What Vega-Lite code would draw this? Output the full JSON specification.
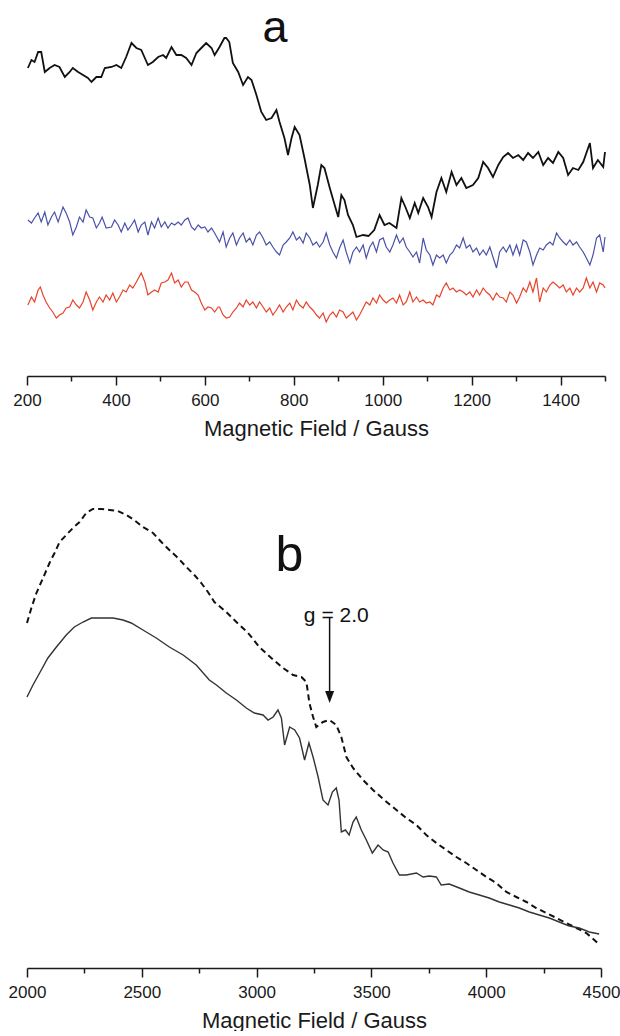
{
"$schema": "https://vega.github.io/schema/vega-lite/v6.json",
"padding": {"left": 8, "top": 0, "right": 0, "bottom": 0},
"bounds": "flush",
"spacing": 102,
"background": "white",
"config": {
  "view": {"stroke": null},
  "axis": {"labelFont": "Liberation Sans", "labelFontSize": 17, "labelColor": "#1a1a1a", "labelFlush": false, "titleFont": "Liberation Sans", "titleFontSize": 22, "titleFontWeight": "normal", "titleColor": "#1a1a1a", "domainColor": "#1a1a1a", "domainWidth": 1.5, "tickColor": "#1a1a1a", "tickWidth": 1.5, "labelPadding": 7, "titlePadding": 10, "grid": false}
},
"datasets": {
"aBlack": [
{"x":202,"y":308},{"x":210,"y":316},{"x":217,"y":314},{"x":225,"y":324},{"x":232,"y":324},{"x":240,"y":304},{"x":251,"y":308},{"x":262,"y":311},{"x":273,"y":309},{"x":285,"y":299},{"x":296,"y":304},{"x":303,"y":308},{"x":315,"y":304},{"x":326,"y":301},{"x":337,"y":298},{"x":345,"y":294},{"x":356,"y":299},{"x":367,"y":299},{"x":375,"y":308},{"x":390,"y":309},{"x":401,"y":311},{"x":412,"y":308},{"x":423,"y":319},{"x":435,"y":333},{"x":446,"y":328},{"x":457,"y":326},{"x":465,"y":318},{"x":472,"y":311},{"x":483,"y":314},{"x":495,"y":319},{"x":506,"y":321},{"x":513,"y":318},{"x":525,"y":329},{"x":536,"y":321},{"x":547,"y":321},{"x":558,"y":318},{"x":570,"y":311},{"x":581,"y":323},{"x":592,"y":328},{"x":603,"y":333},{"x":615,"y":328},{"x":622,"y":321},{"x":633,"y":329},{"x":644,"y":338},{"x":648,"y":338},{"x":655,"y":334},{"x":663,"y":313},{"x":675,"y":304},{"x":686,"y":291},{"x":697,"y":299},{"x":705,"y":296},{"x":716,"y":281},{"x":727,"y":264},{"x":738,"y":256},{"x":750,"y":258},{"x":761,"y":266},{"x":768,"y":254},{"x":779,"y":238},{"x":787,"y":221},{"x":795,"y":238},{"x":802,"y":249},{"x":813,"y":241},{"x":824,"y":218},{"x":836,"y":191},{"x":843,"y":168},{"x":854,"y":191},{"x":862,"y":211},{"x":869,"y":208},{"x":881,"y":188},{"x":892,"y":171},{"x":900,"y":159},{"x":907,"y":181},{"x":914,"y":176},{"x":922,"y":161},{"x":933,"y":151},{"x":941,"y":139},{"x":956,"y":141},{"x":968,"y":140},{"x":981,"y":146},{"x":993,"y":161},{"x":1004,"y":151},{"x":1015,"y":153},{"x":1031,"y":148},{"x":1042,"y":178},{"x":1051,"y":169},{"x":1061,"y":158},{"x":1072,"y":173},{"x":1080,"y":163},{"x":1091,"y":178},{"x":1102,"y":169},{"x":1110,"y":159},{"x":1121,"y":184},{"x":1132,"y":198},{"x":1143,"y":184},{"x":1155,"y":204},{"x":1166,"y":191},{"x":1177,"y":198},{"x":1188,"y":188},{"x":1203,"y":191},{"x":1215,"y":198},{"x":1226,"y":214},{"x":1237,"y":208},{"x":1248,"y":199},{"x":1260,"y":211},{"x":1271,"y":219},{"x":1282,"y":223},{"x":1293,"y":218},{"x":1305,"y":221},{"x":1316,"y":216},{"x":1327,"y":223},{"x":1338,"y":218},{"x":1350,"y":224},{"x":1361,"y":211},{"x":1372,"y":218},{"x":1383,"y":213},{"x":1395,"y":224},{"x":1406,"y":218},{"x":1417,"y":201},{"x":1428,"y":208},{"x":1440,"y":206},{"x":1451,"y":214},{"x":1466,"y":233},{"x":1473,"y":208},{"x":1484,"y":216},{"x":1496,"y":209},{"x":1500,"y":224}
],
"aBlue": [
{"x":202,"y":156},{"x":210,"y":153},{"x":217,"y":158},{"x":225,"y":163},{"x":232,"y":154},{"x":240,"y":164},{"x":247,"y":151},{"x":255,"y":159},{"x":262,"y":164},{"x":270,"y":154},{"x":281,"y":169},{"x":288,"y":163},{"x":296,"y":154},{"x":303,"y":141},{"x":311,"y":149},{"x":318,"y":159},{"x":326,"y":154},{"x":333,"y":166},{"x":341,"y":159},{"x":348,"y":158},{"x":356,"y":148},{"x":363,"y":153},{"x":369,"y":159},{"x":378,"y":148},{"x":390,"y":149},{"x":397,"y":156},{"x":405,"y":151},{"x":412,"y":144},{"x":420,"y":153},{"x":427,"y":146},{"x":435,"y":151},{"x":442,"y":156},{"x":450,"y":144},{"x":457,"y":151},{"x":465,"y":154},{"x":472,"y":141},{"x":480,"y":154},{"x":487,"y":148},{"x":495,"y":158},{"x":502,"y":149},{"x":510,"y":154},{"x":517,"y":148},{"x":525,"y":153},{"x":532,"y":151},{"x":540,"y":154},{"x":547,"y":151},{"x":555,"y":156},{"x":562,"y":158},{"x":570,"y":149},{"x":577,"y":146},{"x":585,"y":151},{"x":592,"y":148},{"x":600,"y":149},{"x":607,"y":144},{"x":615,"y":148},{"x":622,"y":143},
{"x":633,"y":134},{"x":641,"y":144},{"x":648,"y":129},{"x":656,"y":138},{"x":663,"y":143},{"x":671,"y":131},{"x":678,"y":138},{"x":686,"y":143},{"x":693,"y":134},{"x":701,"y":138},{"x":708,"y":131},{"x":716,"y":141},{"x":723,"y":144},{"x":731,"y":138},{"x":738,"y":131},{"x":746,"y":134},{"x":753,"y":129},{"x":761,"y":124},{"x":768,"y":121},{"x":776,"y":131},{"x":783,"y":134},{"x":791,"y":138},{"x":798,"y":144},{"x":806,"y":136},{"x":813,"y":139},{"x":821,"y":133},{"x":828,"y":143},{"x":836,"y":138},{"x":843,"y":131},{"x":851,"y":134},{"x":858,"y":129},{"x":866,"y":134},{"x":873,"y":143},{"x":881,"y":131},{"x":888,"y":124},{"x":896,"y":118},{"x":903,"y":128},{"x":911,"y":136},{"x":918,"y":124},{"x":926,"y":113},{"x":933,"y":124},{"x":941,"y":129},{"x":948,"y":124},{"x":956,"y":131},{"x":963,"y":118},{"x":971,"y":129},{"x":978,"y":134},{"x":986,"y":124},{"x":993,"y":136},{"x":1001,"y":138},{"x":1008,"y":129},{"x":1016,"y":124},{"x":1023,"y":131},{"x":1031,"y":141},{"x":1038,"y":133},{"x":1046,"y":138},{"x":1053,"y":129},{"x":1061,"y":124},{"x":1068,"y":119},{"x":1076,"y":124},
{"x":1083,"y":113},{"x":1091,"y":138},{"x":1098,"y":126},{"x":1106,"y":121},{"x":1113,"y":111},{"x":1121,"y":121},{"x":1128,"y":118},{"x":1136,"y":121},{"x":1143,"y":113},{"x":1151,"y":121},{"x":1158,"y":124},{"x":1166,"y":131},{"x":1173,"y":128},{"x":1181,"y":138},{"x":1188,"y":128},{"x":1196,"y":131},{"x":1203,"y":124},{"x":1211,"y":128},{"x":1218,"y":121},{"x":1226,"y":126},{"x":1233,"y":121},{"x":1241,"y":129},{"x":1248,"y":119},{"x":1256,"y":108},{"x":1263,"y":124},{"x":1271,"y":129},{"x":1278,"y":124},{"x":1286,"y":131},{"x":1293,"y":121},{"x":1301,"y":131},{"x":1308,"y":121},{"x":1316,"y":136},{"x":1323,"y":134},{"x":1331,"y":124},{"x":1338,"y":111},{"x":1346,"y":121},{"x":1353,"y":128},{"x":1361,"y":126},{"x":1368,"y":131},{"x":1376,"y":134},{"x":1383,"y":131},{"x":1391,"y":143},{"x":1398,"y":138},{"x":1406,"y":134},{"x":1413,"y":131},{"x":1421,"y":136},{"x":1428,"y":131},{"x":1436,"y":134},{"x":1443,"y":129},{"x":1451,"y":124},{"x":1458,"y":118},{"x":1466,"y":111},{"x":1473,"y":121},{"x":1481,"y":138},{"x":1488,"y":141},{"x":1496,"y":124},{"x":1500,"y":139}
],
"aRed": [
{"x":202,"y":71},{"x":210,"y":79},{"x":217,"y":74},{"x":225,"y":86},{"x":230,"y":89},{"x":236,"y":81},{"x":243,"y":74},{"x":251,"y":68},{"x":258,"y":64},{"x":266,"y":58},{"x":273,"y":61},{"x":281,"y":63},{"x":288,"y":68},{"x":296,"y":69},{"x":303,"y":76},{"x":311,"y":71},{"x":318,"y":68},{"x":326,"y":74},{"x":333,"y":84},{"x":341,"y":76},{"x":348,"y":66},{"x":356,"y":74},{"x":363,"y":79},{"x":371,"y":74},{"x":378,"y":81},{"x":386,"y":76},{"x":393,"y":83},{"x":401,"y":74},{"x":408,"y":79},{"x":416,"y":86},{"x":423,"y":84},{"x":431,"y":91},{"x":438,"y":88},{"x":446,"y":94},{"x":457,"y":103},{"x":465,"y":94},{"x":472,"y":81},{"x":480,"y":84},{"x":487,"y":86},{"x":495,"y":84},{"x":502,"y":93},{"x":510,"y":94},{"x":517,"y":96},{"x":525,"y":103},{"x":532,"y":93},{"x":540,"y":96},{"x":547,"y":89},{"x":555,"y":94},{"x":562,"y":94},{"x":570,"y":86},{"x":577,"y":84},{"x":585,"y":81},{"x":592,"y":73},{"x":600,"y":66},{"x":607,"y":69},{"x":615,"y":68},{"x":622,"y":64},{"x":630,"y":69},
{"x":633,"y":69},{"x":641,"y":61},{"x":648,"y":58},{"x":656,"y":59},{"x":663,"y":64},{"x":671,"y":68},{"x":678,"y":73},{"x":686,"y":69},{"x":693,"y":76},{"x":701,"y":71},{"x":708,"y":74},{"x":716,"y":68},{"x":723,"y":74},{"x":731,"y":69},{"x":738,"y":64},{"x":746,"y":68},{"x":753,"y":61},{"x":761,"y":66},{"x":768,"y":71},{"x":776,"y":64},{"x":783,"y":69},{"x":791,"y":73},{"x":798,"y":66},{"x":806,"y":76},{"x":813,"y":71},{"x":821,"y":68},{"x":828,"y":74},{"x":836,"y":69},{"x":843,"y":66},{"x":851,"y":61},{"x":858,"y":58},{"x":866,"y":63},{"x":873,"y":54},{"x":881,"y":61},{"x":888,"y":64},{"x":896,"y":59},{"x":903,"y":66},{"x":911,"y":64},{"x":918,"y":58},{"x":926,"y":61},{"x":933,"y":64},{"x":941,"y":56},{"x":948,"y":61},{"x":956,"y":68},{"x":963,"y":74},{"x":971,"y":71},{"x":978,"y":78},{"x":986,"y":73},{"x":993,"y":81},{"x":1001,"y":76},{"x":1008,"y":73},{"x":1016,"y":76},{"x":1023,"y":78},{"x":1031,"y":73},{"x":1038,"y":81},{"x":1046,"y":71},{"x":1053,"y":74},{"x":1061,"y":84},{"x":1068,"y":74},{"x":1076,"y":79},
{"x":1083,"y":74},{"x":1091,"y":76},{"x":1098,"y":73},{"x":1106,"y":74},{"x":1113,"y":71},{"x":1121,"y":81},{"x":1128,"y":79},{"x":1136,"y":88},{"x":1143,"y":93},{"x":1151,"y":86},{"x":1158,"y":88},{"x":1166,"y":84},{"x":1173,"y":86},{"x":1181,"y":84},{"x":1188,"y":81},{"x":1196,"y":84},{"x":1203,"y":79},{"x":1211,"y":86},{"x":1218,"y":81},{"x":1226,"y":88},{"x":1233,"y":84},{"x":1241,"y":81},{"x":1248,"y":76},{"x":1256,"y":83},{"x":1263,"y":79},{"x":1271,"y":78},{"x":1278,"y":74},{"x":1286,"y":84},{"x":1293,"y":81},{"x":1301,"y":73},{"x":1308,"y":79},{"x":1316,"y":88},{"x":1323,"y":84},{"x":1331,"y":94},{"x":1338,"y":84},{"x":1346,"y":98},{"x":1353,"y":74},{"x":1361,"y":88},{"x":1368,"y":84},{"x":1376,"y":91},{"x":1383,"y":94},{"x":1391,"y":91},{"x":1398,"y":88},{"x":1406,"y":91},{"x":1413,"y":84},{"x":1421,"y":88},{"x":1428,"y":81},{"x":1436,"y":88},{"x":1443,"y":84},{"x":1451,"y":88},{"x":1458,"y":98},{"x":1466,"y":88},{"x":1473,"y":94},{"x":1481,"y":84},{"x":1488,"y":93},{"x":1496,"y":91},{"x":1500,"y":88}
],
"bDash": [
{"x":2000,"y":345},{"x":2019,"y":360},{"x":2041,"y":375},{"x":2070,"y":390},{"x":2098,"y":405},{"x":2120,"y":415},{"x":2142,"y":426},{"x":2171,"y":433},{"x":2200,"y":440},{"x":2229,"y":446},{"x":2258,"y":455},{"x":2287,"y":459},{"x":2324,"y":459},{"x":2359,"y":458},{"x":2396,"y":457},{"x":2433,"y":453},{"x":2467,"y":448},{"x":2505,"y":441},{"x":2549,"y":435},{"x":2585,"y":426},{"x":2620,"y":418},{"x":2658,"y":410},{"x":2694,"y":401},{"x":2729,"y":393},{"x":2759,"y":385},{"x":2788,"y":376},{"x":2816,"y":366},{"x":2868,"y":356},{"x":2912,"y":346},{"x":2963,"y":335},{"x":3012,"y":321},{"x":3064,"y":310},{"x":3115,"y":300},{"x":3159,"y":293},{"x":3195,"y":291},{"x":3217,"y":286},{"x":3230,"y":265},{"x":3246,"y":251},{"x":3260,"y":241},{"x":3289,"y":246},{"x":3317,"y":248},{"x":3347,"y":243},{"x":3369,"y":231},{"x":3391,"y":211},{"x":3420,"y":200},{"x":3464,"y":188},{"x":3507,"y":178},{"x":3556,"y":168},{"x":3609,"y":158},{"x":3652,"y":150},{"x":3696,"y":143},{"x":3739,"y":133},{"x":3783,"y":125},{"x":3826,"y":118},{"x":3870,"y":111},{"x":3913,"y":105},{"x":3957,"y":98},{"x":4001,"y":91},{"x":4044,"y":85},{"x":4088,"y":76},{"x":4131,"y":71},{"x":4175,"y":66},{"x":4218,"y":60},{"x":4262,"y":55},{"x":4306,"y":50},{"x":4349,"y":45},{"x":4393,"y":40},{"x":4436,"y":35},{"x":4471,"y":28},{"x":4485,"y":25}
],
"bSolid": [
{"x":2000,"y":271},{"x":2026,"y":283},{"x":2055,"y":295},{"x":2091,"y":310},{"x":2128,"y":321},{"x":2171,"y":333},{"x":2206,"y":341},{"x":2244,"y":346},{"x":2280,"y":350},{"x":2331,"y":350},{"x":2375,"y":350},{"x":2418,"y":348},{"x":2454,"y":345},{"x":2505,"y":338},{"x":2563,"y":330},{"x":2620,"y":321},{"x":2680,"y":313},{"x":2737,"y":303},{"x":2794,"y":288},{"x":2825,"y":283},{"x":2868,"y":275},{"x":2912,"y":268},{"x":2955,"y":260},{"x":2990,"y":255},{"x":3028,"y":253},{"x":3050,"y":248},{"x":3072,"y":251},{"x":3093,"y":258},{"x":3108,"y":250},{"x":3122,"y":223},{"x":3144,"y":241},{"x":3166,"y":238},{"x":3187,"y":230},{"x":3209,"y":208},{"x":3228,"y":225},{"x":3246,"y":211},{"x":3268,"y":191},{"x":3289,"y":168},{"x":3311,"y":163},{"x":3330,"y":176},{"x":3347,"y":180},{"x":3359,"y":168},{"x":3369,"y":136},{"x":3387,"y":138},{"x":3403,"y":133},{"x":3420,"y":146},{"x":3434,"y":151},{"x":3456,"y":138},{"x":3478,"y":128},{"x":3504,"y":115},{"x":3529,"y":123},{"x":3551,"y":118},{"x":3573,"y":116},{"x":3594,"y":105},{"x":3622,"y":93},{"x":3652,"y":93},{"x":3696,"y":95},{"x":3725,"y":91},{"x":3752,"y":92},{"x":3783,"y":91},{"x":3804,"y":83},{"x":3839,"y":84},{"x":3883,"y":80},{"x":3926,"y":76},{"x":3970,"y":73},{"x":4013,"y":70},{"x":4057,"y":66},{"x":4101,"y":63},{"x":4144,"y":60},{"x":4188,"y":56},{"x":4231,"y":53},{"x":4275,"y":50},{"x":4318,"y":46},{"x":4362,"y":42},{"x":4405,"y":40},{"x":4449,"y":36},{"x":4492,"y":34}
]
},
"vconcat": [
{
  "width": 578, "height": 376,
  "layer": [
    {"data": {"name": "aBlack"}, "mark": {"type": "line", "color": "#111111", "strokeWidth": 1.8},
     "encoding": {
       "x": {"field": "x", "type": "quantitative", "scale": {"domain": [200, 1500], "nice": false, "zero": false},
             "axis": {"title": "Magnetic Field / Gauss", "values": [200,300,400,500,600,700,800,900,1000,1100,1200,1300,1400,1500], "format": "d",
                      "labelExpr": "datum.value % 200 === 0 ? datum.label : ''",
                      "tickSize": {"condition": {"test": "datum.value % 200 === 0", "value": 9}, "value": 5}}},
       "y": {"field": "y", "type": "quantitative", "scale": {"domain": [0, 376], "nice": false, "zero": false}, "axis": null}}},
    {"data": {"name": "aBlue"}, "mark": {"type": "line", "color": "#4a52a8", "strokeWidth": 1.2},
     "encoding": {"x": {"field": "x", "type": "quantitative"}, "y": {"field": "y", "type": "quantitative"}}},
    {"data": {"name": "aRed"}, "mark": {"type": "line", "color": "#e8442c", "strokeWidth": 1.2},
     "encoding": {"x": {"field": "x", "type": "quantitative"}, "y": {"field": "y", "type": "quantitative"}}},
    {"data": {"values": [{"x": 758, "y": 334, "t": "a"}]}, "mark": {"type": "text", "font": "Liberation Sans", "fontSize": 45, "align": "center", "baseline": "alphabetic", "color": "#111111"},
     "encoding": {"x": {"field": "x", "type": "quantitative"}, "y": {"field": "y", "type": "quantitative"}, "text": {"field": "t"}}}
  ]
},
{
  "width": 574, "height": 490,
  "layer": [
    {"data": {"name": "bDash"}, "mark": {"type": "line", "color": "#111111", "strokeWidth": 2, "strokeDash": [6, 4]},
     "encoding": {
       "x": {"field": "x", "type": "quantitative", "scale": {"domain": [2000, 4500], "nice": false, "zero": false},
             "axis": {"title": "Magnetic Field / Gauss", "values": [2000,2250,2500,2750,3000,3250,3500,3750,4000,4250,4500], "format": "d",
                      "labelExpr": "datum.value % 500 === 0 ? datum.label : ''",
                      "tickSize": {"condition": {"test": "datum.value % 500 === 0", "value": 9}, "value": 5}}},
       "y": {"field": "y", "type": "quantitative", "scale": {"domain": [0, 490], "nice": false, "zero": false}, "axis": null}}},
    {"data": {"name": "bSolid"}, "mark": {"type": "line", "color": "#333333", "strokeWidth": 1.4},
     "encoding": {"x": {"field": "x", "type": "quantitative"}, "y": {"field": "y", "type": "quantitative"}}},
    {"data": {"values": [{"x": 3318, "y": 351, "y2": 270}]}, "mark": {"type": "rule", "color": "#111111", "strokeWidth": 1.5},
     "encoding": {"x": {"field": "x", "type": "quantitative"}, "y": {"field": "y", "type": "quantitative"}, "y2": {"field": "y2"}}},
    {"data": {"values": [{"x": 3318, "y": 265}]}, "mark": {"type": "point", "shape": "M-0.9,-2.4L0.9,-2.4L0,0Z", "filled": true, "size": 100, "color": "#111111", "opacity": 1},
     "encoding": {"x": {"field": "x", "type": "quantitative"}, "y": {"field": "y", "type": "quantitative"}}},
    {"data": {"values": [{"x": 3347, "y": 346, "t": "g = 2.0"}, {"x": 3143, "y": 397, "t": "b"}]}, "mark": {"type": "text", "font": "Liberation Sans", "align": "center", "baseline": "alphabetic", "color": "#111111"},
     "encoding": {"x": {"field": "x", "type": "quantitative"}, "y": {"field": "y", "type": "quantitative"}, "text": {"field": "t"},
                  "size": {"field": "t", "type": "nominal", "scale": {"domain": ["g = 2.0", "b"], "range": [21, 50]}, "legend": null}}}
  ]
}
]
}
